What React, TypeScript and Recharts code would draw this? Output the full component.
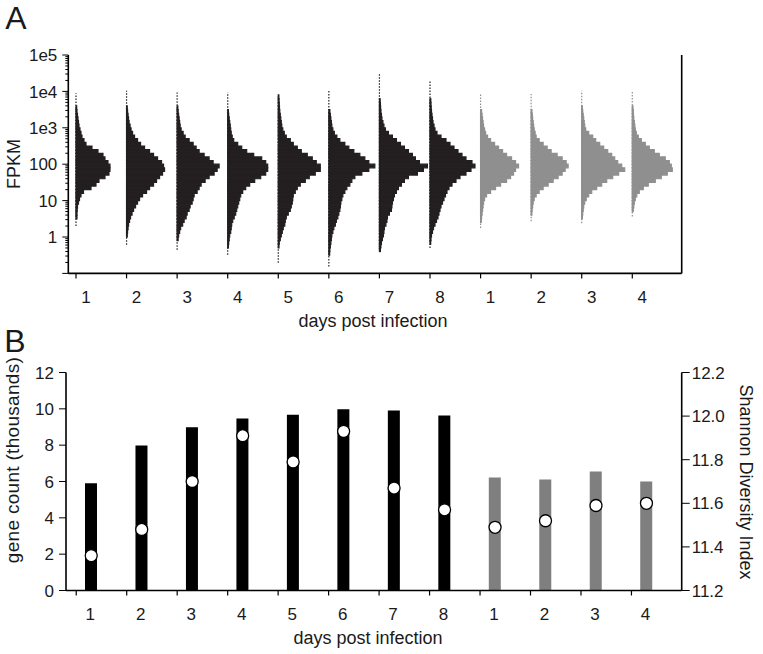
import { ComposedChart, Bar, Cell, Scatter, XAxis, YAxis, ReferenceArea, ReferenceLine } from "recharts";

// x axis labels (two groups of samples)
const dayLabels = ["1", "2", "3", "4", "5", "6", "7", "8", "1", "2", "3", "4"];
const sampleGroup = [0, 0, 0, 0, 0, 0, 0, 0, 1, 1, 1, 1];

// panel A: FPKM histograms, bins of 0.1 log10 units, starting at histStartLog
const BIN_LOG = 0.1;
const histStartLog = [0.5, 0.0, -0.1, -0.3, -0.3, -0.5, -0.4, -0.2, 0.4, 0.6, 0.5, 0.7];
const histCounts = [
  [10, 10, 12, 15, 25, 35, 50, 75, 150, 200, 230, 290, 330, 340, 340, 320, 290, 270, 220, 160, 100, 80, 60, 50, 40, 30, 25, 20, 15, 10, 7],
  [7, 10, 15, 20, 30, 40, 55, 70, 90, 110, 130, 160, 200, 230, 270, 300, 330, 360, 380, 370, 350, 310, 270, 230, 180, 140, 110, 80, 60, 45, 35, 25, 20, 15, 10, 7],
  [10, 15, 25, 35, 55, 70, 90, 100, 120, 130, 150, 160, 170, 200, 220, 240, 280, 320, 370, 400, 420, 360, 320, 270, 220, 190, 160, 120, 80, 60, 40, 30, 25, 20, 15, 10, 7],
  [7, 10, 15, 20, 30, 35, 40, 50, 65, 80, 90, 100, 110, 120, 130, 150, 180, 220, 270, 330, 380, 400, 400, 380, 340, 260, 190, 140, 100, 60, 45, 35, 30, 25, 20, 15, 10, 7],
  [7, 10, 20, 30, 40, 50, 65, 70, 80, 100, 120, 130, 140, 145, 150, 170, 190, 220, 270, 310, 370, 420, 420, 380, 340, 290, 230, 190, 150, 120, 80, 60, 45, 35, 30, 25, 20, 15, 12, 10, 8, 6],
  [8, 10, 15, 20, 25, 30, 40, 50, 65, 75, 90, 100, 110, 115, 120, 130, 140, 160, 180, 210, 230, 260, 330, 400, 460, 400, 360, 310, 250, 200, 160, 110, 80, 55, 40, 30, 25, 20, 15, 10],
  [10, 15, 20, 30, 40, 45, 50, 65, 75, 80, 100, 120, 125, 130, 140, 150, 170, 190, 220, 250, 290, 380, 440, 480, 400, 360, 330, 290, 250, 210, 170, 130, 90, 60, 45, 35, 25, 20, 15, 12, 10, 7],
  [7, 10, 15, 25, 35, 50, 65, 80, 90, 100, 110, 125, 140, 155, 170, 190, 220, 260, 300, 360, 410, 450, 420, 360, 320, 280, 240, 200, 160, 110, 70, 50, 40, 30, 25, 20, 15, 12, 10, 8],
  [7, 10, 15, 20, 25, 30, 40, 60, 100, 150, 200, 260, 300, 330, 350, 380, 350, 310, 260, 220, 180, 140, 100, 70, 50, 40, 30, 25, 20, 15, 10],
  [7, 10, 15, 20, 30, 50, 80, 120, 170, 220, 270, 310, 340, 370, 350, 310, 260, 200, 160, 120, 80, 50, 40, 30, 25, 20, 15, 12, 8],
  [7, 10, 15, 20, 30, 45, 70, 100, 150, 200, 250, 310, 370, 430, 400, 360, 330, 300, 260, 220, 180, 140, 110, 70, 40, 30, 25, 20, 15, 10, 7],
  [10, 15, 20, 30, 45, 70, 110, 160, 230, 290, 350, 400, 390, 370, 330, 270, 220, 170, 130, 90, 60, 40, 30, 25, 20, 15, 12, 10, 7],
];
// extreme values (log10 FPKM), drawn as dotted whiskers
const whiskerLowLog = [0.3, -0.21, -0.35, -0.49, -0.71, -0.81, -0.35, -0.3, 0.25, 0.43, 0.38, 0.56];
const whiskerHighLog = [3.95, 4.02, 3.97, 3.97, 3.92, 4.02, 4.48, 4.29, 3.93, 3.93, 4.02, 4.02];

// panel B
const geneCountK = [5.91, 7.98, 8.99, 9.47, 9.67, 9.98, 9.91, 9.63, 6.22, 6.11, 6.55, 6.0];
const shannonIndex = [11.36, 11.48, 11.7, 11.91, 11.79, 11.93, 11.67, 11.57, 11.49, 11.52, 11.59, 11.6];
const geneTicks = [0, 2, 4, 6, 8, 10, 12];
const shannonTicks = [11.2, 11.4, 11.6, 11.8, 12.0, 12.2];

const FONT = "'Liberation Sans', Arial, Helvetica, sans-serif";
const INK = "#1a1a1a";
const histColors = ["#231f20", "#8f8f8f"];
const barColors = ["#000000", "#7f7f7f"];
const COUNTS_PER_SLOT = 506;
const X_DOMAIN: [number, number] = [0.848, 12.977];

const decades = [0.1, 1, 10, 100, 1000, 10000];
const logTicks = [...decades.flatMap((d) => [1, 2, 3, 4, 5, 6, 7, 8, 9].map((k) => d * k)), 100000];
const decadeLabel: Record<number, string> = { 0: "1", 1: "10", 2: "100", 3: "1e3", 4: "1e4", 5: "1e5" };

const positions = dayLabels.map((_, i) => ({ pos: i + 1 }));

const histBins = histCounts.flatMap((counts, i) =>
  counts.map((c, j) => ({
    key: `${i}-${j}`,
    x1: i + 1,
    x2: i + 1 + c / COUNTS_PER_SLOT,
    y1: Math.pow(10, histStartLog[i] + j * BIN_LOG),
    y2: Math.pow(10, histStartLog[i] + (j + 1) * BIN_LOG),
    color: histColors[sampleGroup[i]],
  }))
);

const barData = dayLabels.map((d, i) => ({
  key: String(i),
  genes: geneCountK[i],
  shannon: shannonIndex[i],
}));

function LogYTick(props: any) {
  const { x, y, payload } = props;
  const lg = Math.log10(payload.value);
  const isMajor = Math.abs(lg - Math.round(lg)) < 1e-6;
  const label = isMajor ? decadeLabel[Math.round(lg)] : undefined;
  return (
    <g>
      <line x1={x - (isMajor ? 6 : 3)} x2={x} y1={y} y2={y} stroke="#000" strokeWidth={1} />
      {label && (
        <text x={x - 11} y={y} dy="0.36em" textAnchor="end" fontSize={17} fontFamily={FONT} fill={INK}>
          {label}
        </text>
      )}
    </g>
  );
}

function DayTickA(props: any) {
  const { x, y, payload } = props;
  return (
    <g>
      <line x1={x} x2={x} y1={y} y2={y + 5} stroke="#000" strokeWidth={1.2} />
      <text x={x + 10} y={y + 23} dy="0.36em" textAnchor="middle" fontSize={17} fontFamily={FONT} fill={INK}>
        {dayLabels[payload.value - 1]}
      </text>
    </g>
  );
}

function DayTickB(props: any) {
  const { x, y, payload } = props;
  return (
    <g>
      <line x1={x - 15} x2={x - 15} y1={y} y2={y + 5} stroke="#000" strokeWidth={1.2} />
      <text x={x - 1} y={y + 23} dy="0.36em" textAnchor="middle" fontSize={17} fontFamily={FONT} fill={INK}>
        {dayLabels[Number(payload.value)]}
      </text>
    </g>
  );
}

function WhiteDot(props: any) {
  const { cx, cy } = props;
  return <circle cx={cx} cy={cy} r={6} fill="#fff" stroke="#000" strokeWidth={1.3} />;
}

const titleStyle = (cx: number, cy: number, rot: number, size = 18, spacing = 0): React.CSSProperties => ({
  position: "absolute",
  left: cx,
  top: cy,
  transform: `translate(-50%, -50%) rotate(${rot}deg)`,
  whiteSpace: "nowrap",
  fontFamily: FONT,
  fontSize: size,
  letterSpacing: spacing,
  color: INK,
  lineHeight: 1,
});

export default function App() {
  return (
    <div style={{ position: "absolute", left: 0, top: 0, width: 763, height: 654, background: "#fff", overflow: "hidden" }}>
      {/* panel A */}
      <div style={{ position: "absolute", left: 0, top: 0 }}>
        <ComposedChart width={763} height={330} data={positions} margin={{ top: 55, right: 81.3, bottom: 26.6, left: 8.3 }}>
          <XAxis
            dataKey="pos"
            type="number"
            domain={X_DOMAIN}
            ticks={positions.map((p) => p.pos)}
            interval={0}
            tickSize={0}
            tickMargin={0}
            tick={<DayTickA />}
            height={30}
            axisLine={{ stroke: "#000", strokeWidth: 1.6 }}
            allowDataOverflow
          />
          <YAxis
            type="number"
            scale="log"
            domain={[0.1, 100000]}
            ticks={logTicks}
            interval={0}
            tickSize={0}
            tickMargin={0}
            tick={<LogYTick />}
            width={60}
            axisLine={{ stroke: "#000", strokeWidth: 1.6 }}
            allowDataOverflow
          />
          <ReferenceLine x={X_DOMAIN[1]} stroke="#000" strokeWidth={1.6} />
          {positions.map((p, i) => (
            <ReferenceLine
              key={`w${i}`}
              segment={[
                { x: p.pos, y: Math.pow(10, whiskerLowLog[i]) },
                { x: p.pos, y: Math.pow(10, whiskerHighLog[i]) },
              ]}
              stroke={histColors[sampleGroup[i]]}
              strokeWidth={1.2}
              strokeDasharray="1.5 1.5"
            />
          ))}
          {histBins.map((b) => (
            <ReferenceArea
              key={b.key}
              x1={b.x1}
              x2={b.x2}
              y1={b.y1}
              y2={b.y2}
              fill={b.color}
              fillOpacity={1}
              stroke={b.color}
              strokeWidth={1.2}
              ifOverflow="visible"
            />
          ))}
        </ComposedChart>
      </div>

      {/* panel B */}
      <div style={{ position: "absolute", left: 0, top: 320 }}>
        <ComposedChart width={763} height={334} data={barData} margin={{ top: 52.5, right: 21.3, bottom: 23.5, left: 16 }}>
          <XAxis
            dataKey="key"
            interval={0}
            tickSize={0}
            tickMargin={0}
            tick={<DayTickB />}
            height={40}
            padding={{ left: 0, right: 10 }}
            axisLine={{ stroke: "#000", strokeWidth: 1.6 }}
          />
          <YAxis
            yAxisId="left"
            domain={[0, 12]}
            ticks={geneTicks}
            interval={0}
            width={50}
            tickSize={7}
            tickMargin={5}
            tick={{ fontSize: 17, fontFamily: FONT, fill: INK }}
            tickLine={{ stroke: "#000" }}
            axisLine={{ stroke: "#000", strokeWidth: 1.6 }}
          />
          <YAxis
            yAxisId="right"
            orientation="right"
            domain={[11.2, 12.2]}
            ticks={shannonTicks}
            interval={0}
            width={60}
            tickSize={8}
            tickMargin={2}
            tickFormatter={(v: number) => v.toFixed(1)}
            tick={{ fontSize: 17, fontFamily: FONT, fill: INK, textAnchor: "start" }}
            tickLine={{ stroke: "#000" }}
            axisLine={{ stroke: "#000", strokeWidth: 1.6 }}
          />
          <Bar yAxisId="left" dataKey="genes" barSize={12} isAnimationActive={false}>
            {barData.map((d, i) => (
              <Cell key={d.key} fill={barColors[sampleGroup[i]]} />
            ))}
          </Bar>
          <Scatter yAxisId="right" dataKey="shannon" shape={<WhiteDot />} isAnimationActive={false} />
        </ComposedChart>
      </div>

      {/* titles */}
      <div style={titleStyle(16, 18, 0, 32)}>A</div>
      <div style={titleStyle(15, 341, 0, 32)}>B</div>
      <div style={titleStyle(14, 164, -90)}>FPKM</div>
      <div style={titleStyle(373, 321, 0)}>days post infection</div>
      <div style={titleStyle(12, 460, -90, 19, 0.3)}>gene count (thousands)</div>
      <div style={titleStyle(368, 638, 0)}>days post infection</div>
      <div style={titleStyle(746, 482, 90)}>Shannon Diversity Index</div>
    </div>
  );
}
